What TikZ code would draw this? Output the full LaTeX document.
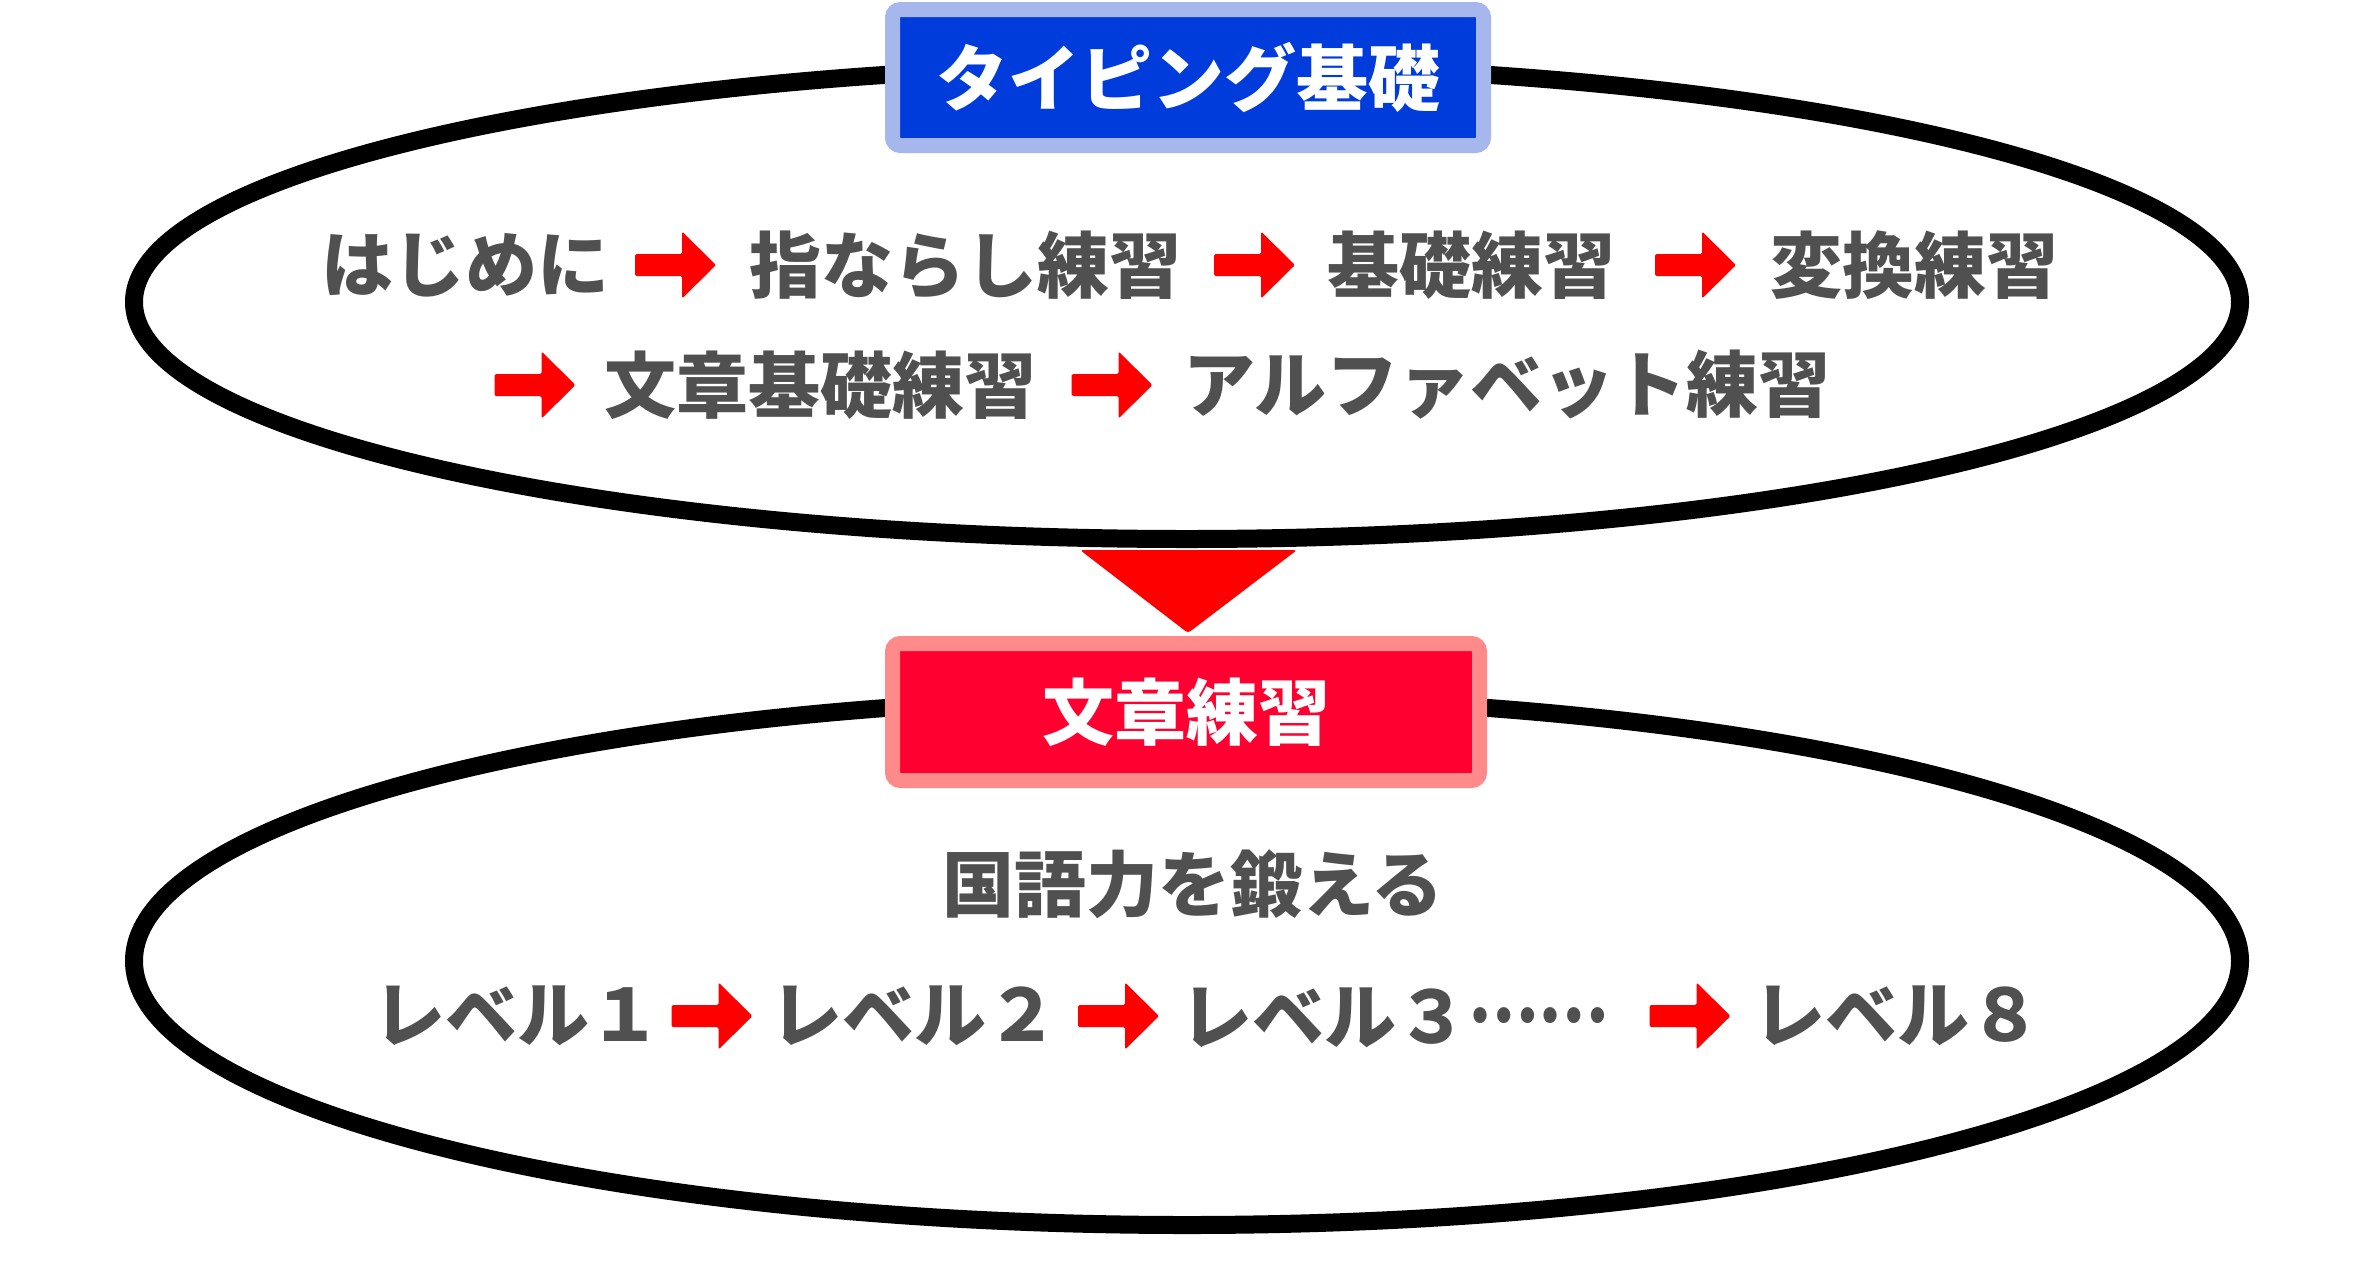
\documentclass[tikz,border=0pt]{standalone}
\usepackage{fontspec}
\newfontfamily\jpfont{Noto Sans CJK JP}

\definecolor{txtgray}{HTML}{505050}
\definecolor{titleblue}{HTML}{003CDC}
\definecolor{titleblueedge}{HTML}{A6B7EE}
\definecolor{titlered}{HTML}{FF0030}
\definecolor{titlerededge}{HTML}{FF8A8A}

\tikzset{
  step label/.style={font=\jpfont\bfseries\fontsize{72}{80}\selectfont, text=txtgray, inner sep=0pt},
  titlebox/.style={font=\jpfont\bfseries\fontsize{72}{80}\selectfont, text=white,
    line width=15pt, rounded corners=8pt, minimum width=591pt, minimum height=136pt},
  % red block arrow, body 47x22, head 34x67
  redarrow/.pic={
    \fill[red, rounded corners=1.5pt] (-40.5,-11) -- (6.5,-11) -- (6.5,-33.5) -- (40.5,0)
      -- (6.5,33.5) -- (6.5,11) -- (-40.5,11) -- cycle;
  }
}

\begin{document}
\begin{tikzpicture}[x=1pt,y=-1pt]
      \useasboundingbox (0,0) rectangle (2376,1270);

      % ELLIPSES
      \draw[line width=18pt] (1187,302) ellipse [x radius=1053, y radius=237];
      \draw[line width=18pt] (1187,961) ellipse [x radius=1053, y radius=264];

      % TITLES
      \node[titlebox, fill=titleblue, draw=titleblueedge] (basics) at (1188,77.5) {タイピング基礎};
      \node[titlebox, fill=titlered, draw=titlerededge, minimum width=587pt, minimum height=137pt]
        (sentence) at (1186,712) {文章練習};

      % DOWN TRIANGLE
      \fill[red, rounded corners=3pt] (1080,550) -- (1297,550) -- (1188,633) -- cycle;

      % BASICS, FIRST ROW
      \node[step label] (s1) at (465,265)    {はじめに};
      \pic (a1) at (675.5,265)  {redarrow};
      \node[step label] (s2) at (965,265)    {指ならし練習};
      \pic (a2) at (1254.5,265) {redarrow};
      \node[step label] (s3) at (1471,265)   {基礎練習};
      \pic (a3) at (1695.5,265) {redarrow};
      \node[step label] (s4) at (1914,265)   {変換練習};

      % BASICS, SECOND ROW
      \pic (a4) at (535,385)    {redarrow};
      \node[step label] (s5) at (820,385)    {文章基礎練習};
      \pic (a5) at (1112,385)   {redarrow};
      \node[step label] (s6) at (1507,385)   {アルファベット練習};

      % SENTENCE PRACTICE
      \node[step label] (goal) at (1193,884) {国語力を鍛える};

      \node[step label] (l1) at (517,1016)   {レベル１};
      \pic (b1) at (712,1016)    {redarrow};
      \node[step label] (l2) at (914,1016)   {レベル２};
      \pic (b2) at (1118.5,1016) {redarrow};
      \node[step label, anchor=base west] (l3) at (1180,1043)
        {レベル３\raisebox{0.28em}{\scalebox{0.87}[1]{……}}};
      \pic (b3) at (1690,1016)   {redarrow};
      \node[step label] (l8) at (1897,1016)  {レベル８};
\end{tikzpicture}
\end{document}
